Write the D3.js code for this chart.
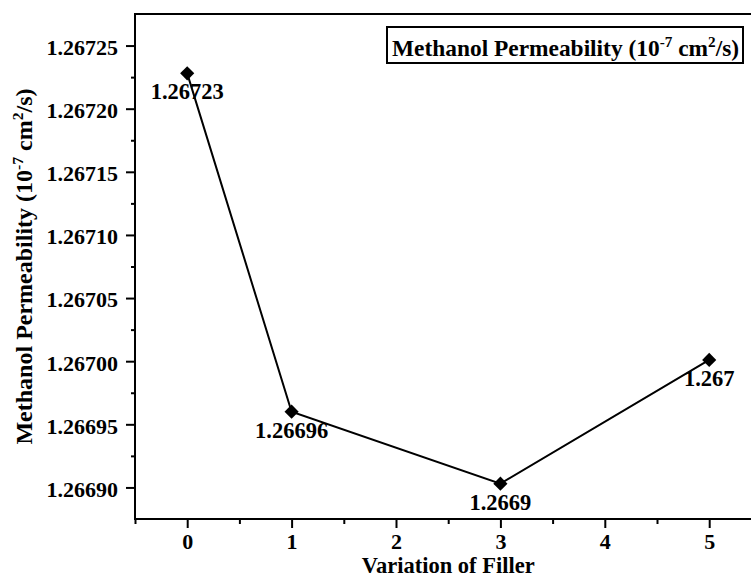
<!DOCTYPE html>
<html>
<head>
<meta charset="utf-8">
<script src="https://cdn.jsdelivr.net/npm/d3@7"></script>
<style>
  html, body { margin: 0; padding: 0; background: #fff; }
  text { font-family: "Liberation Serif", "Times New Roman", serif; font-weight: bold; fill: #000; }
</style>
</head>
<body>
<div id="chart"></div>
<script>
const fillerLevels = [0, 1, 3, 5];
const permeability = [1.267228, 1.26696, 1.266903, 1.267001];
const pointLabels = ['1.26723', '1.26696', '1.2669', '1.267'];
const xTicks = [0, 1, 2, 3, 4, 5];
const xMinorTicks = [-0.5, 0.5, 1.5, 2.5, 3.5, 4.5];
const yTicks = [1.2669, 1.26695, 1.267, 1.26705, 1.2671, 1.26715, 1.2672, 1.26725];
const yMinorTicks = [1.266925, 1.266975, 1.267025, 1.267075, 1.267125, 1.267175, 1.267225];

const W = 751, H = 579;
const margin = { top: 14, left: 135, bottom: 60 };
const plotRight = 761.4;

const svg = d3.select('#chart')
  .append('svg')
  .attr('width', W)
  .attr('height', H);

const x = d3.scaleLinear()
  .domain([-0.5, 5.5])
  .range([margin.left, plotRight]);

const y = d3.scaleLinear()
  .domain([1.266875, 1.267275])
  .range([H - margin.bottom, margin.top]);

const bottom = H - margin.bottom;

// frame
svg.append('rect')
  .attr('x', margin.left)
  .attr('y', margin.top)
  .attr('width', plotRight - margin.left)
  .attr('height', bottom - margin.top)
  .attr('fill', 'none')
  .attr('stroke', '#000')
  .attr('stroke-width', 2);

// axes
const styleAxis = g => {
  g.select('.domain').remove();
  g.selectAll('.tick line').attr('stroke', '#000').attr('stroke-width', 2);
};

svg.append('g')
  .attr('transform', `translate(0,${bottom})`)
  .call(d3.axisBottom(x).tickValues(xMinorTicks).tickSize(5).tickFormat(''))
  .call(styleAxis);

svg.append('g')
  .attr('transform', `translate(0,${bottom})`)
  .call(d3.axisBottom(x).tickValues(xTicks).tickSize(9).tickPadding(5).tickFormat(d3.format('d')))
  .call(styleAxis)
  .call(g => g.selectAll('.tick text').style('font-size', '22px').attr('fill', '#000'));

svg.append('g')
  .attr('transform', `translate(${margin.left},0)`)
  .call(d3.axisLeft(y).tickValues(yMinorTicks).tickSize(4).tickFormat(''))
  .call(styleAxis);

svg.append('g')
  .attr('transform', `translate(${margin.left},0)`)
  .call(d3.axisLeft(y).tickValues(yTicks).tickSize(9).tickPadding(8).tickFormat(d3.format('.5f')))
  .call(styleAxis)
  .call(g => g.selectAll('.tick text').style('font-size', '22px').attr('fill', '#000').attr('dy', '0.4em'));

// axis titles
svg.append('text')
  .attr('text-anchor', 'middle')
  .attr('x', (margin.left + plotRight) / 2)
  .attr('y', 573)
  .style('font-size', '22.5px')
  .text('Variation of Filler');

const unitText = (sel, size) => {
  sel.append('tspan').text('Methanol Permeability (10');
  sel.append('tspan').attr('dy', -size * 0.38).style('font-size', size * 0.65 + 'px').text('-7');
  sel.append('tspan').attr('dy', size * 0.38).text(' cm');
  sel.append('tspan').attr('dy', -size * 0.38).style('font-size', size * 0.65 + 'px').text('2');
  sel.append('tspan').attr('dy', size * 0.38).text('/s)');
};

svg.append('text')
  .attr('text-anchor', 'middle')
  .attr('transform', `translate(32,${(margin.top + bottom) / 2}) rotate(-90)`)
  .style('font-size', '24px')
  .call(unitText, 24);

// legend box
svg.append('rect')
  .attr('x', 387)
  .attr('y', 27)
  .attr('width', 356)
  .attr('height', 36)
  .attr('fill', '#fff')
  .attr('stroke', '#000')
  .attr('stroke-width', 2);

svg.append('text')
  .attr('x', 392)
  .attr('y', 56)
  .style('font-size', '23.4px')
  .call(unitText, 23.4);

// data line
const line = d3.line()
  .x((d, i) => x(fillerLevels[i]))
  .y(d => y(d));

svg.append('path')
  .datum(permeability)
  .attr('fill', 'none')
  .attr('stroke', '#000')
  .attr('stroke-width', 2)
  .attr('d', line);

// diamond markers
svg.selectAll('.marker')
  .data(permeability)
  .enter()
  .append('path')
  .attr('class', 'marker')
  .attr('d', d3.symbol(d3.symbolSquare, 100))
  .attr('transform', (d, i) => `translate(${x(fillerLevels[i])},${y(d)}) rotate(45)`)
  .attr('fill', '#000');

// point labels
svg.selectAll('.plabel')
  .data(permeability)
  .enter()
  .append('text')
  .attr('class', 'plabel')
  .attr('text-anchor', 'middle')
  .attr('x', (d, i) => x(fillerLevels[i]))
  .attr('y', d => y(d) + 26)
  .style('font-size', '22.5px')
  .text((d, i) => pointLabels[i]);
</script>
</body>
</html>
